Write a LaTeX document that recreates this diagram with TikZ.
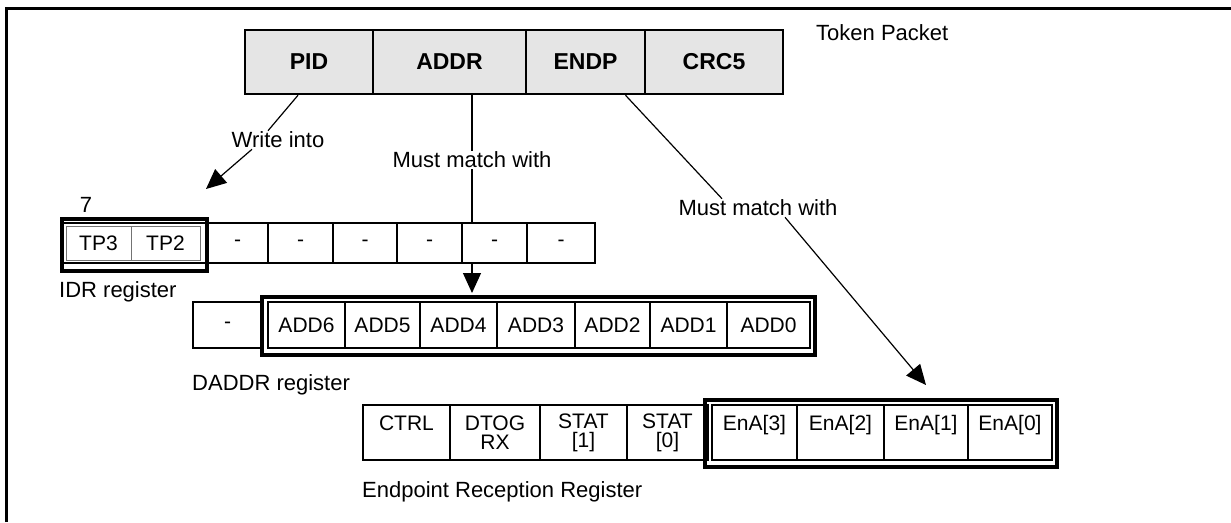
\documentclass[tikz,border=0pt]{standalone}
\usepackage{fontspec}
\setmainfont{Liberation Sans}
\usetikzlibrary{arrows.meta}
\newcommand{\lblfont}{\fontsize{22}{24}\selectfont}
\newcommand{\cellfont}{\fontsize{21}{19}\selectfont}
\newcommand{\pktfont}{\fontsize{23}{25}\selectfont\bfseries}
\begin{document}
\begin{tikzpicture}[x=1pt,y=-1pt,
 lbl/.style={font=\lblfont, inner sep=1pt},
 pkt/.style={draw, line width=2.5pt, fill=black!10, minimum height=64pt, inner sep=0pt, font=\pktfont},
 reg/.style={draw, line width=2.5pt, fill=white, inner sep=0pt, font=\cellfont, align=center},
 thincell/.style={draw=black!55, line width=0.8pt, inner sep=0pt, font=\cellfont},
 hl/.style={draw, line width=4.5pt, inner sep=0pt},
 conn/.style={line width=1.2pt},
 arr/.style={line width=1.2pt, -{Triangle[length=20pt, width=18pt]}},
]
\useasboundingbox (0,0) rectangle (1231,522);
\draw[line width=3pt] (6,522) -- (6,8) -- (1231,8);

% token packet
\node[pkt, minimum width=128pt] (pid)  at (309,62)   {PID};
\node[pkt, minimum width=153pt] (addr) at (449.5,62) {ADDR};
\node[pkt, minimum width=119pt] (endp) at (585.5,62) {ENDP};
\node[pkt, minimum width=138pt] (crc)  at (714,62)   {CRC5};
\node[lbl, anchor=west] (tok) at (815,33) {Token Packet};

% connectors
\coordinate (tipA) at (206,189);
\coordinate (tipB) at (472,293);
\coordinate (tipC) at (926,385);
\node[lbl] (wi)  at (278,140) {Write into};
\node[lbl] (mm1) at (472,160) {Must match with};
\node[lbl] (mm2) at (758,208) {Must match with};
\draw[conn] ([xshift=-11pt]pid.south) -- ([xshift=-10pt]wi.north);
\draw[arr] ([xshift=-26pt]wi.south) -- (tipA);
\draw[conn] (mm1.north |- addr.south) -- (mm1.north);
\draw[arr] (mm1.south) -- (tipB);
\draw[conn] ([xshift=40pt]endp.south) -- ([xshift=-36pt]mm2.north);
\draw[arr] ([xshift=27pt]mm2.south) -- (tipC);

% IDR register
\node[lbl] (seven) at (86,205) {7};
\node[reg, minimum width=533pt, minimum height=40pt] (idr) at (328.5,243) {};
\node[thincell, minimum width=65pt, minimum height=34pt] (tp3) at (98.5,243) {TP3};
\node[thincell, minimum width=69pt, minimum height=34pt] (tp2) at (165.5,243) {TP2};
\node[reg, minimum width=61pt, minimum height=40pt] (i5) at (237.5,243) {-};
\node[reg, minimum width=65pt, minimum height=40pt] (i4) at (300.5,243) {-};
\node[reg, minimum width=64pt, minimum height=40pt] (i3) at (365,243) {-};
\node[reg, minimum width=65pt, minimum height=40pt] (i2) at (429.5,243) {-};
\node[reg, minimum width=65pt, minimum height=40pt] (i1) at (494.5,243) {-};
\node[reg, minimum width=68pt, minimum height=40pt] (i0) at (561,243) {-};
\node[hl, minimum width=145pt, minimum height=52pt] (hlidr) at (134.5,245) {};
\node[lbl, anchor=west] (idrlbl) at (58,292) {IDR register};

% DADDR register
\node[reg, minimum width=69pt, minimum height=46pt] (d7) at (227.5,325) {-};
\node[reg, minimum width=77pt, minimum height=46pt] (d6) at (306.5,325) {ADD6};
\node[reg, minimum width=75pt, minimum height=46pt] (d5) at (382.5,325) {ADD5};
\node[reg, minimum width=77pt, minimum height=46pt] (d4) at (458.5,325) {ADD4};
\node[reg, minimum width=78pt, minimum height=46pt] (d3) at (536,325)   {ADD3};
\node[reg, minimum width=75pt, minimum height=46pt] (d2) at (612.5,325) {ADD2};
\node[reg, minimum width=77pt, minimum height=46pt] (d1) at (688.5,325) {ADD1};
\node[reg, minimum width=83pt, minimum height=46pt] (d0) at (768.5,325) {ADD0};
\node[hl, minimum width=553pt, minimum height=58pt] (hldaddr) at (538.5,326) {};
\node[lbl, anchor=west] (daddrlbl) at (191,385) {DADDR register};

% Endpoint reception register
\node[reg, minimum width=87pt, minimum height=55pt] (ctrl) at (406.5,432.5) {CTRL\\\mbox{}};
\node[reg, minimum width=90pt, minimum height=55pt] (dtog) at (495,432.5)   {DTOG\\RX};
\node[reg, minimum width=87pt, minimum height=55pt] (st1)  at (583.5,432.5) {STAT\\{[1]}};
\node[reg, minimum width=81pt, minimum height=55pt] (st0)  at (667.5,432.5) {STAT\\{[0]}};
\node[reg, minimum width=85pt, minimum height=55pt] (e3) at (754.5,432.5) {EnA[3]\\\mbox{}};
\node[reg, minimum width=87pt, minimum height=55pt] (e2) at (840.5,432.5) {EnA[2]\\\mbox{}};
\node[reg, minimum width=84pt, minimum height=55pt] (e1) at (926,432.5)   {EnA[1]\\\mbox{}};
\node[reg, minimum width=84pt, minimum height=55pt] (e0) at (1010,432.5)  {EnA[0]\\\mbox{}};
\node[hl, minimum width=352pt, minimum height=67pt] (hlep) at (881,433.5) {};
\node[lbl, anchor=west] (eplbl) at (361,492) {Endpoint Reception Register};
\end{tikzpicture}
\end{document}
